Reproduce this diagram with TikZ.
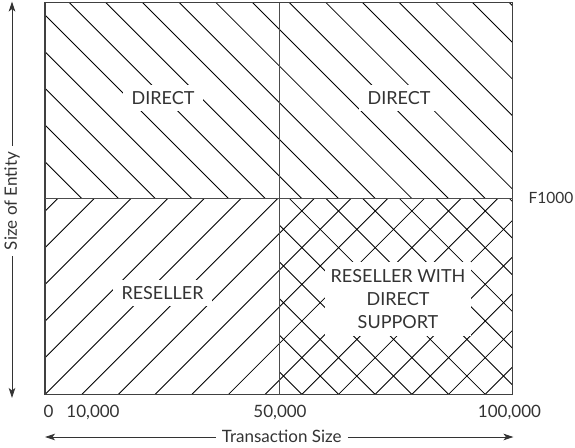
\documentclass[tikz,border=0pt]{standalone}
\usepackage{fontspec}
\setmainfont{Lato}
\usetikzlibrary{arrows.meta}
\begin{document}
\begin{tikzpicture}[x=1pt,y=-1pt,
  hatch/.style={line width=0.85pt, black},
  frame/.style={line width=1.1pt, draw=black!75},
  divider/.style={line width=0.9pt, draw=black!70},
  lbl/.style={font=\fontsize{18}{23}\selectfont, text=black!80},
  tick/.style={font=\fontsize{17}{20}\selectfont, text=black!80},
  mask/.style={lbl, fill=white, inner xsep=9pt, inner ysep=6pt},
  axis/.style={line width=0.8pt, black!80, -{Stealth[length=10pt,width=6.5pt,inset=2.5pt]}}
]
\useasboundingbox (0,0) rectangle (575,447);
\coordinate (TL) at (45,2.5);
\coordinate (BR) at (512.5,394.5);
\coordinate (VT) at (279,2.5);
\coordinate (VB) at (279,394.5);
\coordinate (HL) at (45,198);
\coordinate (HR) at (512.5,198);
% top hatching (\)
\begin{scope}
  \clip (45,2.5) rectangle (512.5,198);
  \foreach \k [evaluate=\k as \c using 30+36.67*\k] in {-5,...,13}
    \draw[hatch] (\c-10,-10) -- (\c+410,410);
\end{scope}
% bottom hatching (/)
\begin{scope}
  \clip (45,198) rectangle (512.5,394.5);
  \foreach \k [evaluate=\k as \c using 439.5+36.67*\k] in {-6,...,13}
    \draw[hatch] (\c+10,-10) -- (\c-410,410);
\end{scope}
% bottom right cross hatching (\)
\begin{scope}
  \clip (279,198) rectangle (512.5,394.5);
  \foreach \k [evaluate=\k as \c using -92.5+36.67*\k] in {-1,...,11}
    \draw[hatch] (\c-10,-10) -- (\c+410,410);
\end{scope}
% labels
\node[mask] (d1) at (163,98) {DIRECT};
\node[mask] (d2) at (399,98) {DIRECT};
\node[mask] (r1) at (162.5,293) {RESELLER};
\node[mask, align=center, inner xsep=6pt, inner ysep=7pt] (r2) at (398,299) {RESELLER WITH\\DIRECT\\SUPPORT};
% frame
\draw[frame] (TL) rectangle (BR);
\draw[divider] (VT) -- (VB);
\draw[divider] (HL) -- (HR);
% side labels
\node[tick, font=\fontsize{15.5}{19}\selectfont, anchor=east, inner sep=0pt] (f) at (573.5,198) {F1000};
\node[tick, anchor=base] (t0) at (48.5,417.3) {0};
\node[tick, anchor=base] (t1) at (93,417.3) {10,000};
\node[tick, anchor=base] (t5) at (280,417.3) {50,000};
\node[tick, anchor=base] (t10) at (509.5,417.3) {100,000};
% axes
\coordinate (ytop) at (12,1.5);
\coordinate (ybot) at (12,398);
\coordinate (xleft) at (45,437);
\coordinate (xright) at (513.5,437);
\node[tick, rotate=90, inner sep=6pt] (ya) at (12,201) {Size of Entity};
\node[tick, inner sep=6pt] (xa) at (281.7,436) {Transaction Size};
\draw[axis] (ya.east) -- (ytop);
\draw[axis] (ya.west) -- (ybot);
\draw[axis] (xa.west |- xleft) -- (xleft);
\draw[axis] (xa.east |- xright) -- (xright);
\end{tikzpicture}
\end{document}
